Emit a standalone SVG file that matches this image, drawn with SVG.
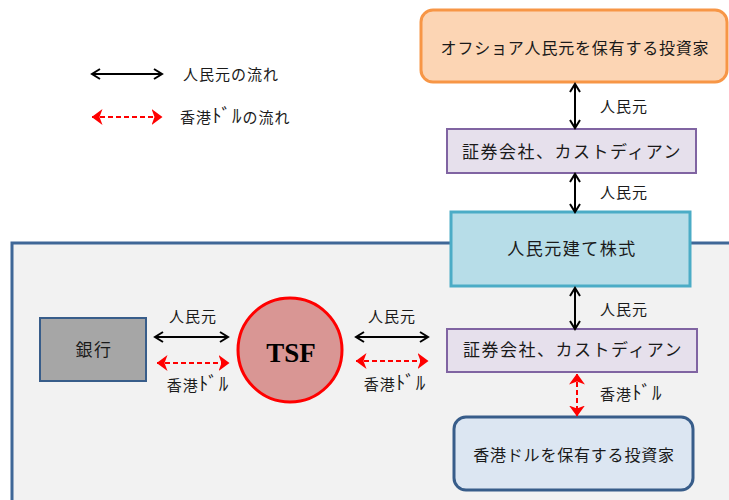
<svg xmlns="http://www.w3.org/2000/svg" width="729" height="500" viewBox="0 0 729 500">
<defs>
<marker id="bk" viewBox="0 0 12 12" refX="10" refY="6" markerWidth="12" markerHeight="12" markerUnits="userSpaceOnUse" orient="auto-start-reverse">
<path d="M2,1 L10,6 L2,11" fill="none" stroke="#000" stroke-width="2"/>
</marker>
<marker id="rd" viewBox="0 0 11 16" refX="10.5" refY="8" markerWidth="11" markerHeight="16" markerUnits="userSpaceOnUse" orient="auto-start-reverse">
<path d="M0,0 L11,8 L0,16 L3,8 Z" fill="#f00"/>
</marker>
</defs>
<style>
text{font-family:"Noto Sans CJK JP","Noto Sans",sans-serif;fill:#1a1a1a}
.bx{font-size:17px;letter-spacing:1.5px;text-anchor:middle}
.bs{font-size:16px;letter-spacing:0.8px;text-anchor:middle}
.lb{font-size:15px;letter-spacing:1px}
.hw{font-size:19px}
.blk{stroke:#000;stroke-width:2;fill:none;marker-start:url(#bk);marker-end:url(#bk)}
.red{stroke:#f00;stroke-width:2;fill:none;stroke-dasharray:5,3;marker-start:url(#rd);marker-end:url(#rd)}
</style>
<rect width="729" height="500" fill="#fff"/>
<g id="panel"><rect x="12" y="243" width="730" height="270" fill="#f2f2f2" stroke="#3f6797" stroke-width="3"/></g>
<g id="legend">
<line class="blk" x1="92" y1="74" x2="162" y2="74"/>
<text class="lb" x="183" y="80">人民元の流れ</text>
<line class="red" x1="92" y1="117" x2="162" y2="117"/>
<text class="lb" x="180" y="123">香港<tspan class="hw">ﾄﾞﾙ</tspan>の流れ</text>
</g>
<g id="offshore"><rect x="421" y="10" width="306" height="72" rx="12" fill="#fcd5b4" stroke="#f79646" stroke-width="3"/><text class="bs" x="575" y="54">オフショア人民元を保有する投資家</text></g>
<g id="broker1"><rect x="447" y="129" width="249" height="44" fill="#e6e0ec" stroke="#8064a2" stroke-width="2"/><text class="bx" x="572" y="158">証券会社、カストディアン</text></g>
<g id="stock"><rect x="451" y="212" width="239" height="74" fill="#b7dde8" stroke="#4bacc6" stroke-width="3"/><text class="bx" x="572" y="255">人民元建て株式</text></g>
<g id="broker2"><rect x="447" y="329" width="250" height="43" fill="#e6e0ec" stroke="#8064a2" stroke-width="2"/><text class="bx" x="573" y="356">証券会社、カストディアン</text></g>
<g id="hkd"><rect x="454" y="417" width="239" height="73" rx="12" fill="#dce6f2" stroke="#385d8a" stroke-width="3"/><text class="bs" x="574" y="461">香港ドルを保有する投資家</text></g>
<g id="bank"><rect x="40" y="318" width="106" height="63" fill="#a6a6a6" stroke="#385d8a" stroke-width="2"/><text class="bx" x="94" y="356">銀行</text></g>
<g id="tsf"><circle cx="290" cy="350" r="52" fill="#d99694" stroke="#f00" stroke-width="3"/><text x="291" y="362" text-anchor="middle" style="font-family:'Liberation Serif',serif;font-weight:bold;font-size:27px;fill:#000">TSF</text></g>
<g id="connectors">
<line class="blk" x1="575" y1="84" x2="575" y2="128"/>
<text class="lb" x="600" y="112">人民元</text>
<line class="blk" x1="575" y1="174" x2="575" y2="212"/>
<text class="lb" x="600" y="198">人民元</text>
<line class="blk" x1="575" y1="288" x2="575" y2="329"/>
<text class="lb" x="600" y="315">人民元</text>
<line class="red" x1="577" y1="374" x2="577" y2="416"/>
<text class="lb" x="600" y="400">香港<tspan class="hw">ﾄﾞﾙ</tspan></text>
<line class="blk" x1="155" y1="337" x2="228" y2="337"/>
<text class="lb" x="193" y="322" text-anchor="middle">人民元</text>
<line class="red" x1="157" y1="363" x2="229" y2="363"/>
<text class="lb" x="198" y="391" text-anchor="middle">香港<tspan class="hw">ﾄﾞﾙ</tspan></text>
<line class="blk" x1="356" y1="337" x2="428" y2="337"/>
<text class="lb" x="392" y="322" text-anchor="middle">人民元</text>
<line class="red" x1="356" y1="361" x2="428" y2="361"/>
<text class="lb" x="395" y="390" text-anchor="middle">香港<tspan class="hw">ﾄﾞﾙ</tspan></text>
</g>
</svg>
